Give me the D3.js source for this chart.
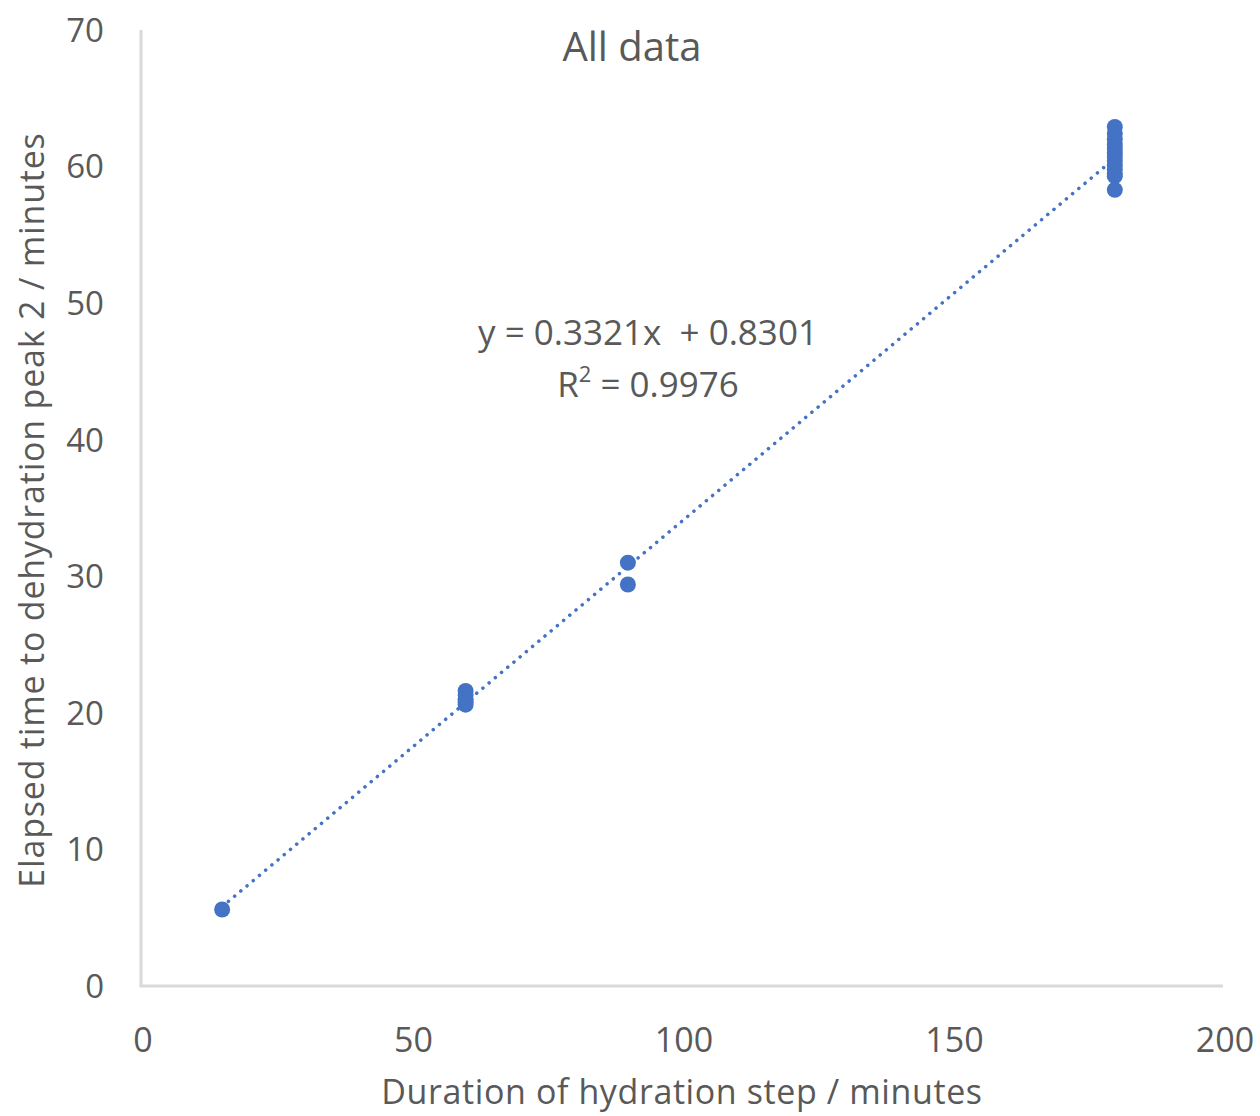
<!DOCTYPE html>
<html>
<head>
<meta charset="utf-8">
<script src="https://cdn.jsdelivr.net/npm/d3@7"></script>
<style>
  body { margin: 0; background: #fff; }
  text { font-family: "Open Sans", "Liberation Sans", sans-serif; fill: #595959; }
</style>
</head>
<body>
<svg id="chart" width="1260" height="1116"></svg>
<script>
// Hydration step duration (min) and elapsed time to dehydration peak 2 (min)
const durations = [15,
  60, 60, 60, 60, 60,
  90, 90,
  180, 180, 180, 180, 180, 180, 180, 180, 180, 180, 180, 180, 180];
const elapsed = [5.6,
  21.6, 21.3, 21.0, 20.8, 20.6,
  31.0, 29.4,
  62.9, 62.4, 62.0, 61.6, 61.3, 61.0, 60.7, 60.4, 60.1, 59.8, 59.5, 59.3, 58.3];

const xTicks = [0, 50, 100, 150, 200];
const yTicks = [0, 10, 20, 30, 40, 50, 60, 70];
const slope = 0.3321, intercept = 0.8301, r2 = 0.9976;

const svg = d3.select("#chart");
const x = d3.scaleLinear().domain([0, 200]).range([141, 1223]);
const y = d3.scaleLinear().domain([0, 70]).range([986, 30]);
const blue = "#4472C4";

// Axis lines
svg.append("line").attr("x1", x(0)).attr("x2", x(0)).attr("y1", y(70)).attr("y2", y(0))
  .attr("stroke", "#d9d9d9").attr("stroke-width", 3);
svg.append("line").attr("x1", x(0) - 1.5).attr("x2", x(200)).attr("y1", y(0)).attr("y2", y(0))
  .attr("stroke", "#d9d9d9").attr("stroke-width", 3);

// Tick labels
svg.append("g").selectAll("text").data(yTicks).join("text")
  .attr("x", 104).attr("y", d => y(d)).attr("dy", "0.36em")
  .attr("text-anchor", "end").attr("font-size", 33).text(d => d);
svg.append("g").selectAll("text").data(xTicks).join("text")
  .attr("x", d => x(d) + 2).attr("y", 1040).attr("dy", "0.36em")
  .attr("text-anchor", "middle").attr("font-size", 34).text(d => d);

// Title and axis titles
svg.append("text").attr("x", 632).attr("y", 61).attr("text-anchor", "middle")
  .attr("font-size", 40).text("All data");
svg.append("text").attr("x", 682).attr("y", 1104).attr("text-anchor", "middle")
  .attr("font-size", 34).attr("letter-spacing", 0.6)
  .text("Duration of hydration step / minutes");
svg.append("text").attr("transform", "translate(44,510) rotate(-90)")
  .attr("text-anchor", "middle").attr("font-size", 34).attr("letter-spacing", 0.8)
  .text("Elapsed time to dehydration peak 2 / minutes");

// Linear trendline (dotted)
const xMin = d3.min(durations), xMax = d3.max(durations);
svg.append("line")
  .attr("x1", x(xMin)).attr("y1", y(slope * xMin + intercept))
  .attr("x2", x(xMax)).attr("y2", y(slope * xMax + intercept))
  .attr("stroke", blue).attr("stroke-width", 3.5)
  .attr("stroke-linecap", "round").attr("stroke-dasharray", "0.1 8");

// Data points
svg.append("g").selectAll("circle").data(durations).join("circle")
  .attr("cx", d => x(d)).attr("cy", (d, i) => y(elapsed[i]))
  .attr("r", 8).attr("fill", blue);

// Trendline equation
svg.append("text").attr("x", 648).attr("y", 345).attr("text-anchor", "middle")
  .attr("font-size", 35).text(`y = ${slope}x\u00a0 + ${intercept}`);
const r2t = svg.append("text").attr("x", 648).attr("y", 397).attr("text-anchor", "middle")
  .attr("font-size", 35);
r2t.append("tspan").text("R");
r2t.append("tspan").attr("baseline-shift", "super").attr("font-size", 22).text("2");
r2t.append("tspan").text(` = ${r2}`);
</script>
</body>
</html>
